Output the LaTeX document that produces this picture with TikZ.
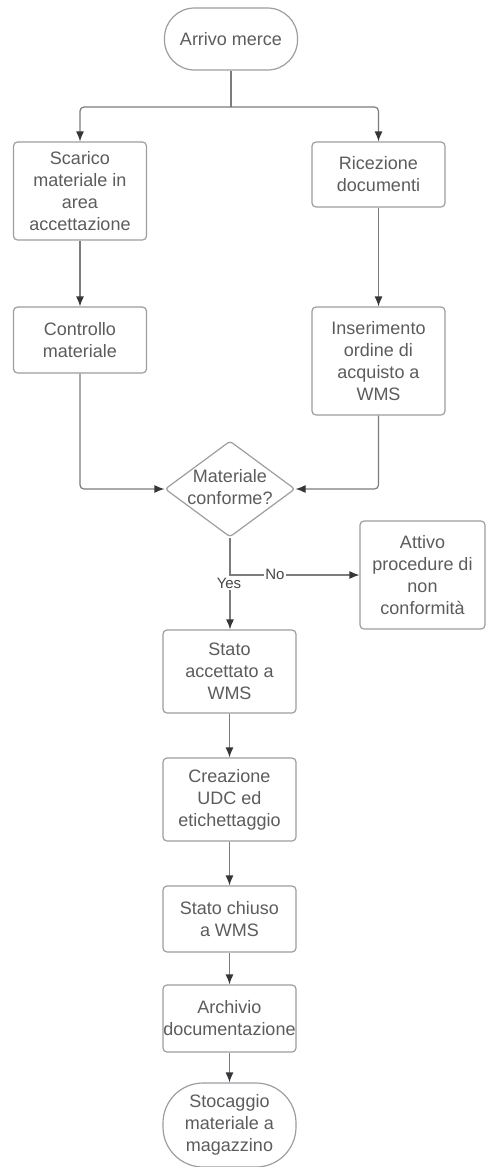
\documentclass[tikz,border=0pt]{standalone}
\usepackage{fontspec}
\setmainfont{Liberation Sans}
\usetikzlibrary{shapes.geometric,arrows.meta}

\definecolor{boxline}{HTML}{9E9E9E}
\definecolor{wire}{HTML}{7C7C7C}
\definecolor{tip}{HTML}{33363B}
\definecolor{ink}{HTML}{5C5C5C}

\tikzset{
  base/.style={draw=boxline, line width=1.2pt, fill=white, text=ink, align=center,
    font=\fontsize{18}{22}\selectfont, inner sep=0pt},
  stepbox/.style={base, rectangle, rounded corners=4pt, minimum width=133pt},
  terminal/.style={base, rectangle, minimum width=133pt},
  decision/.style={draw=boxline, line width=1.2pt, fill=white, diamond, rounded corners=3pt,
    minimum width=130pt, minimum height=96pt, inner sep=0pt},
  dectext/.style={text=ink, align=center, font=\fontsize{18}{22}\selectfont, inner sep=0pt},
  wireline/.style={draw=wire, line width=1.2pt, rounded corners=4pt},
  flow/.style={wireline, -{Latex[length=10pt,width=8pt,color=tip]}},
  tag/.style={fill=white, text=black!72, font=\fontsize{15}{17}\selectfont, inner sep=1.5pt}
}

\begin{document}
\begin{tikzpicture}[x=1pt, y=-1pt]
\useasboundingbox[fill=white] (0,0) rectangle (486,1167);

% start / end terminals
\node[terminal, rounded corners=30pt, minimum height=62pt] (start) at (231,39) {Arrivo merce};
\node[terminal, rounded corners=40pt, minimum height=84pt] (sto) at (229.5,1125) {Stocaggio\\materiale a\\magazzino};

% process steps
\node[stepbox, minimum height=98pt] (scar) at (80,191) {Scarico\\materiale in\\area\\accettazione};
\node[stepbox, minimum height=65pt] (ric) at (378.5,174.5) {Ricezione\\documenti};
\node[stepbox, minimum height=66pt] (ctrl) at (80,340) {Controllo\\materiale};
\node[stepbox, minimum height=108pt] (ins) at (378.5,361) {Inserimento\\ordine di\\acquisto a\\WMS};
\node[stepbox, minimum width=125pt, minimum height=108pt] (att) at (422.5,575) {Attivo\\procedure di\\non\\conformità};
\node[stepbox, minimum height=83pt] (acc) at (229.5,671.5) {Stato\\accettato a\\WMS};
\node[stepbox, minimum height=83pt] (udc) at (229.5,799.5) {Creazione\\UDC ed\\etichettaggio};
\node[stepbox, minimum height=66pt] (chi) at (229.5,919) {Stato chiuso\\a WMS};
\node[stepbox, minimum height=67pt] (arc) at (229.5,1018.5) {Archivio\\documentazione};

% decision
\node[decision] (dec) at (230,489) {};
\node[dectext] (dect) at (230,487) {Materiale\\conforme?};

% connectors
\coordinate (split) at (231,107);
\coordinate (br) at (230,575);

\draw[wireline] (start.south) -- (split);
\draw[flow] (split) -| (scar.north);
\draw[flow] (split) -| (ric.north);
\draw[flow] (scar) -- (ctrl);
\draw[flow] (ric) -- (ins);
\draw[flow] (ctrl.south) |- (dec.west);
\draw[flow] (ins.south) |- (dec.east);
\draw[wireline] (dec.south) -- (br);
\draw[flow] (br) -- (br |- acc.north);
\draw[flow] (br) -- (att.west);
\draw[flow] (acc) -- (udc);
\draw[flow] (udc) -- (chi);
\draw[flow] (chi) -- (arc);
\draw[flow] (arc) -- (sto);

% branch labels
\node[tag] (yes) at (229,583) {Yes};
\node[tag] (no) at (275,574) {No};
\end{tikzpicture}
\end{document}
